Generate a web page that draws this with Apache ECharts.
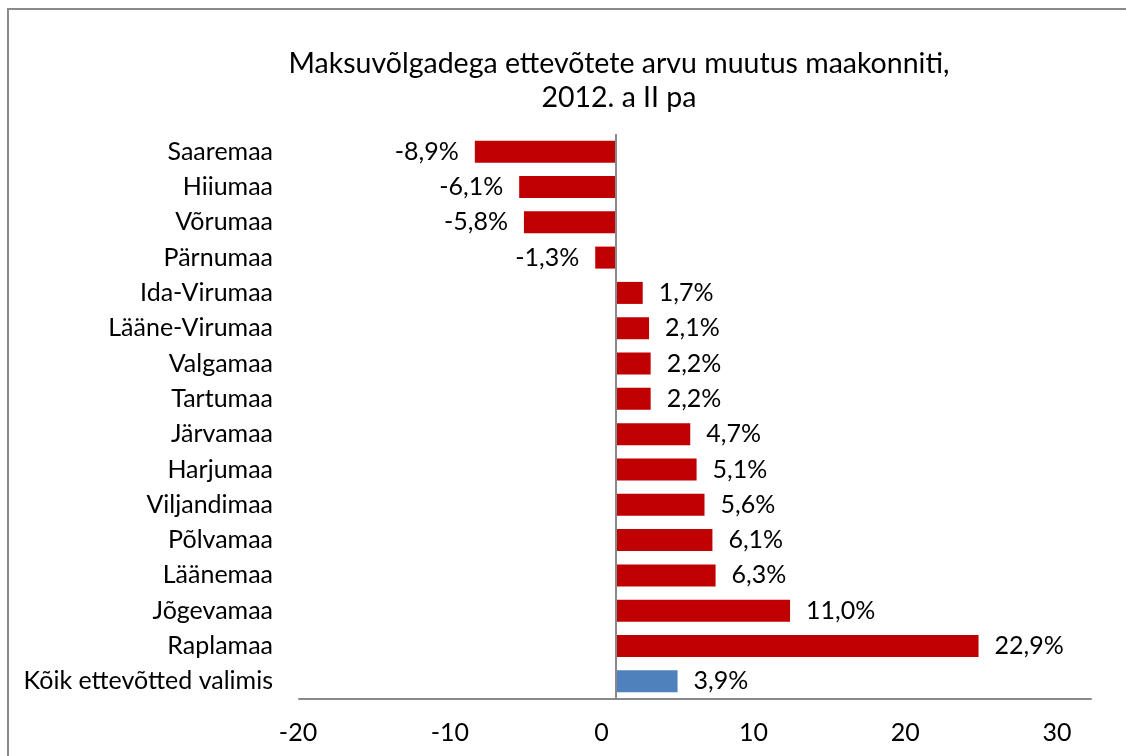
<!DOCTYPE html>
<html>
<head>
<meta charset="utf-8">
<script src="https://cdn.jsdelivr.net/npm/echarts@6/dist/echarts.min.js"></script>
<style>
  html, body { margin: 0; padding: 0; background: #fff; }
  #chart { width: 1126px; height: 756px; }
</style>
</head>
<body>
<div id="chart"></div>
<script>
// maakonnad ülevalt alla
const categories = ['Saaremaa', 'Hiiumaa', 'Võrumaa', 'Pärnumaa', 'Ida-Virumaa', 'Lääne-Virumaa',
  'Valgamaa', 'Tartumaa', 'Järvamaa', 'Harjumaa', 'Viljandimaa', 'Põlvamaa', 'Läänemaa',
  'Jõgevamaa', 'Raplamaa', 'Kõik ettevõtted valimis'];
const values = [-8.9, -6.1, -5.8, -1.3, 1.7, 2.1, 2.2, 2.2, 4.7, 5.1, 5.6, 6.1, 6.3, 11.0, 22.9, 3.9];
const totalCategory = 'Kõik ettevõtted valimis';
const xTicks = [-20, -10, 0, 10, 20, 30];

const red = '#C00000';
const blue = '#4F81BD';
const font = 'Lato';

const chart = echarts.init(document.getElementById('chart'));

const barData = values.map((v, i) => ({
  value: v,
  itemStyle: { color: categories[i] === totalCategory ? blue : red },
  label: { position: v < 0 ? 'left' : 'right' }
}));

chart.setOption({
  animation: false,
  textStyle: { fontFamily: font },
  title: {
    text: 'Maksuvõlgadega ettevõtete arvu muutus maakonniti,\n2012. a II pa',
    left: 614,
    top: 42,
    textAlign: 'center',
    textStyle: { fontFamily: font, fontSize: 28.5, fontWeight: 'normal', color: '#000', lineHeight: 34 }
  },
  graphic: [{
    type: 'rect',
    shape: { x: 8, y: 9, width: 1200, height: 1000 },
    style: { fill: 'none', stroke: '#8a8a8a', lineWidth: 2 },
    silent: true
  }],
  grid: [
    { left: 299, right: 35, top: 134, bottom: 57 },
    // ainult x-telje siltide jaoks
    { left: 298, right: 69, top: 134, bottom: 57 }
  ],
  xAxis: [{
    type: 'value',
    gridIndex: 0,
    min: -20,
    max: 30,
    interval: 10,
    axisLine: { show: true, lineStyle: { color: '#898989', width: 2 } },
    axisTick: { show: false },
    axisLabel: { show: false },
    splitLine: { show: false }
  }, {
    type: 'value',
    gridIndex: 1,
    min: xTicks[0],
    max: xTicks[xTicks.length - 1],
    interval: 10,
    axisLine: { show: false },
    axisTick: { show: false },
    splitLine: { show: false },
    axisLabel: { fontFamily: font, fontSize: 25, color: '#000', margin: 21 }
  }],
  yAxis: [{
    type: 'category',
    gridIndex: 0,
    data: categories,
    inverse: true,
    axisLine: { show: false },
    axisTick: { show: false },
    axisLabel: { fontFamily: font, fontSize: 25, color: '#000', margin: 26 }
  }, {
    type: 'category',
    gridIndex: 1,
    data: categories,
    show: false
  }],
  series: [{
    type: 'bar',
    xAxisIndex: 0,
    yAxisIndex: 0,
    data: barData,
    barWidth: 22,
    label: {
      show: true,
      distance: 16,
      fontFamily: font,
      fontSize: 25,
      color: '#000',
      formatter: p => p.value.toFixed(1).replace('.', ',') + '%'
    },
    markLine: {
      silent: true,
      symbol: 'none',
      label: { show: false },
      lineStyle: { color: '#898989', width: 2, type: 'solid' },
      data: [{ xAxis: 0 }]
    }
  }]
});
</script>
</body>
</html>
